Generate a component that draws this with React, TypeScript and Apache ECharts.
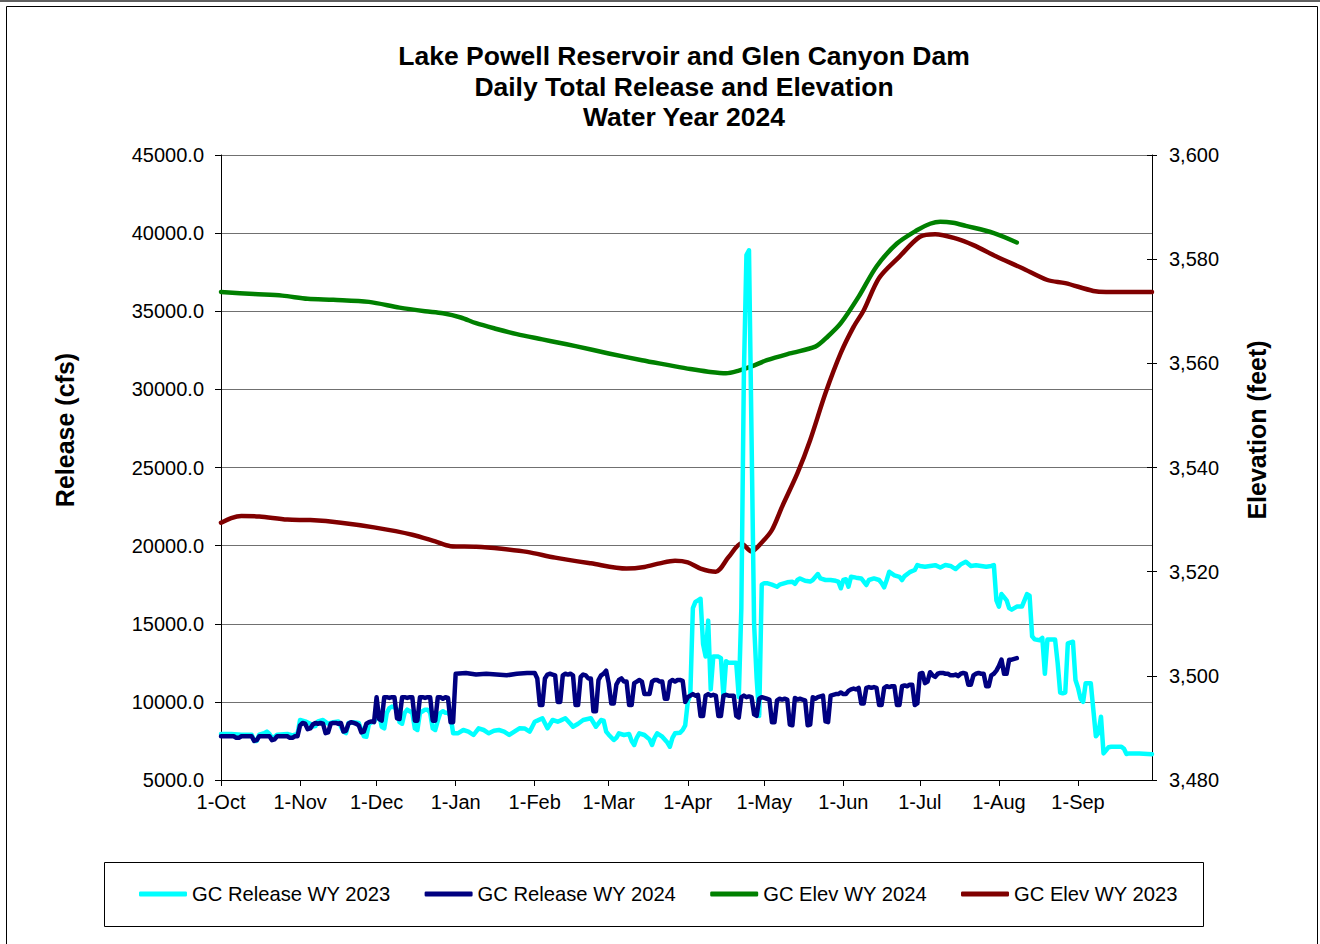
import { useEffect, useRef } from "react";
import * as echarts from "echarts";

// Day index 0 = 1-Oct-2023 ... 365 = 30-Sep-2024
const monthStartDays = [0, 31, 61, 92, 123, 152, 183, 213, 244, 274, 305, 336];
const monthLabels = ["1-Oct", "1-Nov", "1-Dec", "1-Jan", "1-Feb", "1-Mar", "1-Apr", "1-May", "1-Jun", "1-Jul", "1-Aug", "1-Sep"];

const titleLines = ["Lake Powell Reservoir and Glen Canyon Dam", "Daily Total Release and Elevation", "Water Year 2024"];
const seriesNames = ["GC Release WY 2023", "GC Release WY 2024", "GC Elev WY 2024", "GC Elev WY 2023"];

// [day, cfs]
const releaseWY2023: [number, number][] = [
  [0, 7950], [4, 7950], [8, 7900], [12, 7900], [13, 7500], [14, 7500], [15, 7900], [17, 8000], [18, 8100], [19, 7950], [20, 7700], [21, 7750], [22, 7900], [26, 7950], [28, 7850], [30, 7950],
  [31, 8840], [33, 8750], [35, 8600], [36, 8420], [37, 8450], [38, 8750], [40, 8840], [42, 8600], [44, 8700], [46, 8750], [48, 8100], [49, 8000], [50, 8650], [52, 8700], [54, 8650], [56, 7800], [57, 7770], [58, 8600], [60, 8750],
  [61, 9000], [62, 9270], [63, 8400], [64, 8300], [65, 9300], [66, 9600], [67, 9700], [68, 9650], [69, 9500], [70, 8700], [71, 8600], [72, 9300], [73, 9500], [74, 9400], [75, 9300], [76, 8300], [77, 8200], [78, 9300], [79, 9400], [80, 9500], [81, 9500], [82, 9300], [83, 8300], [84, 8200], [85, 8800], [86, 9300], [87, 9400], [88, 9300], [89, 9300], [90, 9100], [91, 8000],
  [92, 8000], [93, 8000], [95, 8200], [97, 8100], [99, 7880], [101, 8310], [103, 8200], [105, 7990], [107, 8150], [109, 8200], [111, 8100], [113, 7880], [115, 8100], [117, 8310], [119, 8300], [121, 8100], [122, 8400],
  [123, 8730], [124, 8800], [126, 8950], [128, 8310], [130, 8840], [132, 8730], [133, 8800], [135, 8950], [137, 8600], [138, 8410], [140, 8600], [142, 8840], [145, 8950], [147, 8410], [149, 8840], [150, 8800], [151, 8100], [152, 7900],
  [154, 7560], [155, 7700], [156, 7990], [158, 7880], [160, 7950], [161, 7500], [162, 7240], [163, 7700], [164, 7990], [166, 7880], [168, 7600], [169, 7240], [170, 7700], [171, 7990], [173, 7770], [175, 7400], [176, 7130], [177, 7700], [178, 7990], [180, 8030], [181, 8200],
  [182, 8500], [183, 10000], [184, 10500], [185, 16000], [186, 16400], [187, 16500], [188, 16600], [189, 13700], [190, 12900], [191, 15200], [192, 10800], [193, 12900], [194, 12900], [195, 12900], [196, 12800], [197, 10300], [198, 12600], [199, 12500], [200, 12500], [201, 12500], [202, 12500], [203, 10300], [204, 16000], [205, 31000], [206, 38600], [207, 38900], [208, 27000], [209, 15000], [210, 11500], [211, 9100],
  [212, 17500], [213, 17600], [214, 17600], [216, 17500], [218, 17370], [219, 17500], [221, 17600], [222, 17650], [224, 17690], [225, 17550], [226, 17800], [227, 17900], [229, 17750], [231, 17700], [232, 17800], [234, 18180], [235, 17900], [237, 17800], [239, 17800], [241, 17750], [242, 17700], [243, 17270],
  [244, 17800], [245, 17850], [246, 17370], [247, 18010], [249, 17950], [251, 17900], [252, 17700], [253, 17480], [254, 17800], [256, 17900], [258, 17800], [259, 17600], [260, 17330], [261, 17800], [262, 18330], [264, 18100], [266, 18000], [267, 17800], [268, 18050], [270, 18300], [272, 18440], [273, 18760],
  [274, 18700], [276, 18650], [278, 18700], [280, 18750], [282, 18600], [284, 18760], [286, 18700], [288, 18500], [290, 18800], [292, 18970], [294, 18700], [296, 18750], [298, 18700], [300, 18650], [302, 18700], [303, 18760],
  [304, 16500], [305, 16100], [306, 16900], [307, 16700], [308, 16500], [309, 16000], [310, 15900], [312, 16100], [314, 16100], [316, 16900], [317, 16800], [318, 14200], [319, 14000], [321, 13950], [322, 14100], [323, 11800], [324, 14000], [326, 14000], [327, 14000], [328, 12500], [329, 10600], [330, 10550], [331, 10600], [332, 13750], [334, 13850], [335, 11400],
  [336, 10900], [337, 10200], [338, 10000], [339, 11200], [341, 11200], [342, 9500], [343, 7800], [344, 8000], [345, 9050], [346, 6700], [347, 6900], [348, 7100], [349, 7130], [353, 7130], [354, 7000], [355, 6660], [356, 6700], [358, 6700], [360, 6700], [365, 6650],
];

const releaseWY2024: [number, number][] = [
  [0, 7800], [5, 7800], [6, 7700], [7, 7700], [8, 7800], [12, 7800], [13, 7500], [14, 7550], [15, 7800], [19, 7800], [20, 7550], [21, 7600], [22, 7800], [26, 7800], [27, 7700], [28, 7700], [29, 7800], [30, 7800],
  [31, 8500], [32, 8650], [33, 8600], [34, 8250], [35, 8300], [36, 8550], [37, 8650], [38, 8600], [39, 8650], [40, 8600], [41, 8000], [42, 8050], [43, 8600], [44, 8650], [45, 8650], [46, 8600], [47, 8650], [48, 8100], [49, 8150], [50, 8600], [51, 8700], [52, 8650], [53, 8600], [54, 8500], [55, 8050], [56, 8100], [57, 8600], [58, 8700], [59, 8750], [60, 8700],
  [61, 10300], [62, 8900], [63, 8800], [64, 10300], [65, 10300], [66, 10250], [67, 10300], [68, 10300], [69, 8950], [70, 8900], [71, 10300], [72, 10300], [73, 10250], [74, 10300], [75, 10300], [76, 8800], [77, 8800], [78, 10300], [79, 10300], [80, 10250], [81, 10300], [82, 10300], [83, 8800], [84, 8800], [85, 10300], [86, 10300], [87, 10200], [88, 10300], [89, 10250], [90, 8700], [91, 8700],
  [92, 11800], [96, 11850], [100, 11750], [104, 11800], [108, 11750], [112, 11700], [116, 11800], [120, 11850], [123, 11850], [124, 11500],
  [125, 9800], [126, 9800], [127, 11500], [128, 11750], [129, 11800], [130, 11750], [131, 11700], [132, 10000], [133, 10000], [134, 11700], [135, 11800], [136, 11750], [137, 11800], [138, 11700], [139, 9800], [140, 9800], [141, 11600], [142, 11750], [143, 11700], [144, 11500], [145, 11500], [146, 9400], [147, 9400], [148, 11400], [149, 11700], [150, 11800], [151, 12000],
  [152, 11200], [153, 9900], [154, 9900], [155, 11100], [156, 11400], [157, 11500], [158, 11300], [159, 11300], [160, 9800], [161, 9800], [162, 11200], [163, 11300], [164, 11400], [165, 11300], [166, 10500], [167, 10500], [168, 10500], [169, 11300], [170, 11400], [171, 11400], [172, 11300], [173, 11300], [174, 10200], [175, 10200], [176, 11300], [177, 11400], [178, 11300], [179, 11400], [180, 11400], [181, 11350], [182, 10000],
  [183, 10300], [184, 10400], [185, 10500], [186, 10400], [187, 10450], [188, 9100], [189, 9100], [190, 10400], [191, 10500], [192, 10400], [193, 10450], [194, 10400], [195, 9100], [196, 9100], [197, 10400], [198, 10450], [199, 10400], [200, 10400], [201, 10400], [202, 9100], [203, 9000], [204, 10300], [205, 10400], [206, 10300], [207, 10350], [208, 10300], [209, 9200], [210, 9100], [211, 10200], [212, 10300],
  [213, 10250], [214, 10200], [215, 10150], [216, 8700], [217, 8700], [218, 10100], [219, 10200], [220, 10150], [221, 10200], [222, 10150], [223, 8550], [224, 8500], [225, 10250], [226, 10150], [227, 10200], [228, 10150], [229, 10100], [230, 8500], [231, 8550], [232, 10300], [233, 10200], [234, 10300], [235, 10350], [236, 10400], [237, 8750], [238, 8700], [239, 10400], [240, 10450], [241, 10500], [242, 10500], [243, 10600],
  [244, 10500], [245, 10500], [246, 10700], [247, 10800], [248, 10850], [249, 10800], [250, 10900], [251, 9900], [252, 9900], [253, 10900], [254, 10950], [255, 10900], [256, 10950], [257, 10900], [258, 9800], [259, 9800], [260, 10900], [261, 11000], [262, 10950], [263, 11000], [264, 11000], [265, 9800], [266, 9800], [267, 11000], [268, 11050], [269, 11000], [270, 11100], [271, 11100], [272, 9800], [273, 9900],
  [274, 11800], [275, 11850], [276, 11200], [277, 11300], [278, 11900], [279, 11700], [280, 11600], [281, 11800], [282, 11850], [283, 11850], [284, 11800], [285, 11800], [286, 11700], [287, 11700], [288, 11750], [289, 11650], [290, 11800], [291, 11850], [292, 11800], [293, 11100], [294, 11100], [295, 11700], [296, 11800], [297, 11850], [298, 11800], [299, 11800], [300, 11000], [301, 11000], [302, 11700], [303, 11800], [304, 12000],
  [305, 12300], [306, 12700], [307, 11800], [308, 11800], [309, 12700], [310, 12700], [311, 12750], [312, 12800],
];

// [day, feet]
const elevWY2024: [number, number][] = [
  [0, 3573.7], [13, 3573.3], [24, 3573.0], [34, 3572.4], [44, 3572.2], [58, 3571.8], [70, 3570.7], [80, 3570.0], [87, 3569.6], [94, 3568.8], [100, 3567.7], [108, 3566.6], [116, 3565.6], [126, 3564.6], [132, 3564.0], [139, 3563.3], [152, 3561.9], [165, 3560.6], [175, 3559.7], [184, 3558.9], [191, 3558.4], [198, 3558.1], [203, 3558.6], [208, 3559.4], [214, 3560.6], [223, 3561.9], [233, 3563.2], [238, 3565.2], [243, 3567.7], [250, 3572.8], [257, 3578.6], [265, 3583.0], [273, 3585.6], [278, 3586.8], [282, 3587.2], [287, 3587.0], [292, 3586.4], [303, 3585.0], [312, 3583.2],
];

const elevWY2023: [number, number][] = [
  [0, 3529.4], [4, 3530.3], [8, 3530.7], [15, 3530.6], [26, 3530.0], [35, 3529.9], [47, 3529.4], [60, 3528.5], [75, 3527.1], [84, 3525.8], [90, 3524.9], [100, 3524.8], [110, 3524.4], [120, 3523.8], [131, 3522.7], [145, 3521.6], [159, 3520.6], [166, 3520.9], [172, 3521.6], [178, 3522.1], [183, 3521.8], [188, 3520.6], [194, 3520.0], [199, 3522.8], [204, 3525.4], [208, 3523.9], [212, 3525.6], [216, 3528.0], [220, 3532.5], [226, 3538.9], [231, 3545.3], [237, 3554.3], [243, 3562.0], [248, 3567.0], [252, 3570.2], [258, 3576.4], [266, 3580.5], [274, 3584.3], [280, 3584.8], [288, 3584.0], [295, 3582.7], [304, 3580.5], [314, 3578.3], [324, 3576.0], [331, 3575.4], [342, 3573.9], [347, 3573.7], [365, 3573.7],
];

const colors = { rel23: "#00FFFF", rel24: "#000080", elev24: "#008000", elev23: "#800000" };
const FONT = "'Liberation Sans', Arial, sans-serif";

export default function App() {
  const ref = useRef<HTMLDivElement>(null);
  useEffect(() => {
    if (!ref.current) return;
    const chart = echarts.init(ref.current, undefined, { renderer: "svg" });
    const lineSeries = (name: string, data: [number, number][], color: string, yAxisIndex: number, z: number, smooth: number) => ({
      name,
      type: "line",
      data,
      yAxisIndex,
      showSymbol: false,
      symbol: "none",
      smooth,
      z,
      lineStyle: { color, width: 4.5, cap: "round", join: "round" },
      itemStyle: { color },
    });
    chart.setOption({
      animation: false,
      backgroundColor: "#ffffff",
      textStyle: { fontFamily: FONT },
      grid: { left: 221, top: 155, right: 168, bottom: 164, containLabel: false },
      legend: {
        data: seriesNames,
        left: 139,
        top: 884,
        padding: 0,
        itemWidth: 48,
        itemHeight: 5,
        itemGap: 34,
        icon: "roundRect",
        textStyle: { fontSize: 20.2, color: "#000", fontFamily: FONT },
        selectedMode: false,
      },
      xAxis: {
        type: "value",
        min: 0,
        max: 365,
        axisLine: { show: true, onZero: false, lineStyle: { color: "#000", width: 1 } },
        axisTick: { show: true, customValues: monthStartDays, length: 6, lineStyle: { color: "#000" } },
        axisLabel: {
          customValues: monthStartDays,
          formatter: (v: number) => monthLabels[monthStartDays.indexOf(Math.round(v))] ?? "",
          fontSize: 20,
          color: "#000",
          margin: 12,
          fontFamily: FONT,
        },
        splitLine: { show: false },
      },
      yAxis: [
        {
          type: "value",
          position: "left",
          min: 5000,
          max: 45000,
          interval: 5000,
          axisLine: { show: true, lineStyle: { color: "#000", width: 1 } },
          axisTick: { show: true, length: 6, lineStyle: { color: "#000" } },
          axisLabel: { formatter: (v: number) => v.toFixed(1), fontSize: 20, color: "#000", margin: 17, fontFamily: FONT },
          splitLine: { show: true, lineStyle: { color: "#707070", width: 1 } },
        },
        {
          type: "value",
          position: "right",
          min: 3480,
          max: 3600,
          interval: 20,
          axisLine: { show: true, lineStyle: { color: "#000", width: 1 } },
          axisTick: { show: true, length: 5, lineStyle: { color: "#000" } },
          axisLabel: { formatter: (v: number) => v.toLocaleString("en-US"), fontSize: 20, color: "#000", margin: 17, fontFamily: FONT },
          splitLine: { show: false },
        },
        {
          type: "value",
          position: "right",
          min: 3480,
          max: 3600,
          interval: 20,
          axisLine: { show: false },
          axisTick: { show: true, inside: true, length: 5, lineStyle: { color: "#000" } },
          axisLabel: { show: false },
          splitLine: { show: false },
        },
      ],
      graphic: [
        { type: "line", silent: true, shape: { x1: 0, y1: 1, x2: 1320, y2: 1 }, style: { stroke: "#606060", lineWidth: 2 } },
        { type: "rect", silent: true, shape: { x: 6.5, y: 6.5, width: 1311, height: 960 }, style: { fill: "none", stroke: "#000", lineWidth: 1 } },
        { type: "rect", silent: true, shape: { x: 104.5, y: 862.5, width: 1099, height: 64 }, style: { fill: "none", stroke: "#000", lineWidth: 1 } },
        ...titleLines.map((t, i) => ({
          type: "text",
          silent: true,
          x: 684,
          y: 56 + i * 30.5,
          style: { text: t, fill: "#000", font: `bold 26.5px ${FONT}`, textAlign: "center", textVerticalAlign: "middle" },
        })),
        {
          type: "text",
          silent: true,
          x: 65,
          y: 430,
          rotation: Math.PI / 2,
          style: { text: "Release (cfs)", fill: "#000", font: `bold 25px ${FONT}`, textAlign: "center", textVerticalAlign: "middle" },
        },
        {
          type: "text",
          silent: true,
          x: 1257,
          y: 430,
          rotation: Math.PI / 2,
          style: { text: "Elevation (feet)", fill: "#000", font: `bold 25px ${FONT}`, textAlign: "center", textVerticalAlign: "middle" },
        },
      ],
      series: [
        lineSeries(seriesNames[3], elevWY2023, colors.elev23, 1, 2, 0.3),
        lineSeries(seriesNames[2], elevWY2024, colors.elev24, 1, 3, 0.3),
        lineSeries(seriesNames[0], releaseWY2023, colors.rel23, 0, 4, 0),
        lineSeries(seriesNames[1], releaseWY2024, colors.rel24, 0, 5, 0),
      ],
    });
    return () => chart.dispose();
  }, []);
  return <div ref={ref} style={{ position: "fixed", left: 0, top: 0, width: 1320, height: 944, background: "#fff" }} />;
}
